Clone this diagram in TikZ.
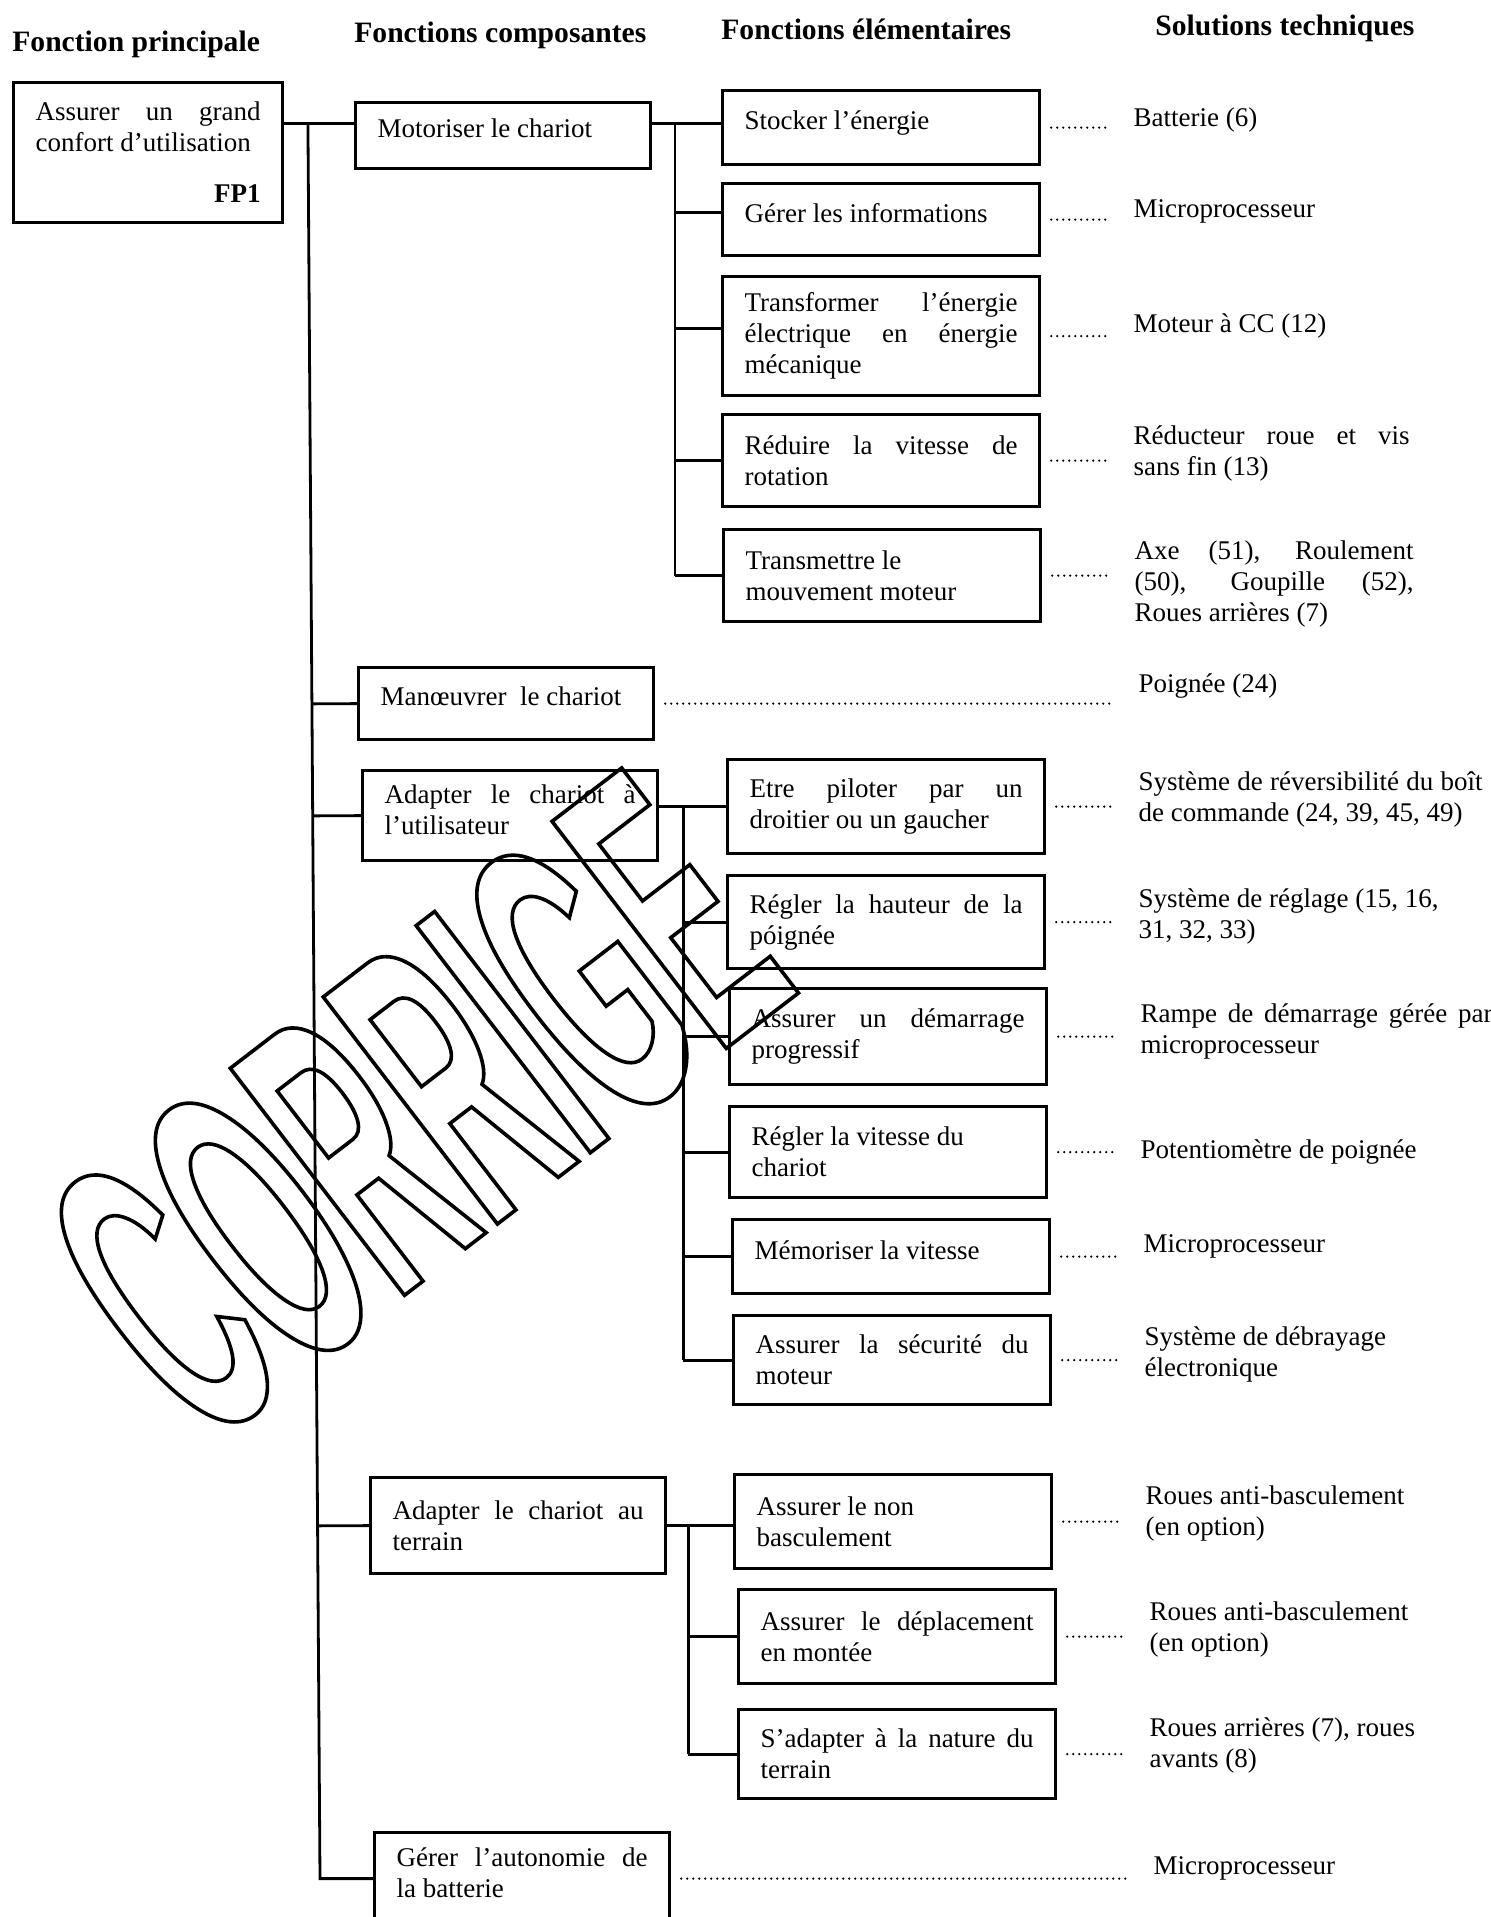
\documentclass[tikz,border=0pt]{standalone}
\usepackage{fontspec}
\setmainfont{Liberation Serif}
\newfontfamily\tamponfont[FakeStretch=0.39]{Liberation Sans}
\usetikzlibrary{positioning, calc}
\newcommand\bodysize{\fontsize{13.5pt}{15.5pt}\selectfont}
\newcommand\headsize{\fontsize{14.8pt}{17pt}\selectfont}
\newcommand\contourtexte[1]{\special{pdf:literal direct 1 Tr 1.8 w}#1\special{pdf:literal direct 0 Tr}}
\tikzset{
    x=0.5pt,
    y=-0.5pt,
    node distance=46pt,
    fonc/.style={draw, line width=1.6pt, anchor=north west, inner xsep=11pt, inner ysep=3pt, align=justify, font=\bodysize},
    fcomp/.style={fonc, text width=125.5pt},
    felem/.style={fonc, text width=136.5pt},
    haut/.style={text depth=7pt},
    hautdeux/.style={text depth=21.5pt},
    sol/.style={anchor=west, inner sep=0pt, align=left, font=\bodysize},
    titre/.style={anchor=west, inner sep=0pt, font=\headsize\bfseries},
    link/.style={line width=1.4pt},
    leader/.style={line width=1.2pt, line cap=round, dash pattern=on 0pt off 3pt, shorten <=5pt, shorten >=13pt},
}

\begin{document}
\begin{tikzpicture}
    \useasboundingbox (0,0) rectangle (1491,1917);
    \clip (0,0) rectangle (1491,1917);

    % titres des colonnes
    \node[titre] (h1) at (12,44) {Fonction principale};
    \node[titre] (h2) at (354,35) {Fonctions composantes};
    \node[titre] (h3) at (721,29) {Fonctions élémentaires};
    \node[titre] (h4) at (1155,28) {Solutions techniques};

    % fonction principale et fonctions composantes
    \node[fonc, text width=112.5pt, minimum height=70pt] (fp1) at (12,81)
        {Assurer un grand\linebreak confort d’utilisation\\[10pt]\hspace*{\fill}\textbf{FP1}};
    \node[fcomp, haut, minimum height=33pt] (fc1) at (354,101) {Motoriser le chariot};
    \node[fcomp, haut, minimum height=36pt] (fc2) at (357,666) {Manœuvrer\ \ le chariot};
    \node[fcomp, hautdeux, minimum height=45pt] (fc3) at (361,769) {Adapter le chariot à\linebreak l’utilisateur};
    \node[fcomp, minimum height=48pt] (fc4) at (369,1476) {Adapter le chariot au\linebreak terrain};
    \node[fcomp, hautdeux, minimum height=46pt] (fc5) at (373,1831) {Gérer l’autonomie de\linebreak la batterie};

    % fonctions elementaires
    \node[felem, haut, minimum height=37pt] (fe1) at (721,89) {Stocker l’énergie};
    \node[felem, haut, minimum height=36pt] (fe2) at (721,182) {Gérer les informations};
    \node[felem, minimum height=59.5pt] (fe3) at (721,275) {Transformer l’énergie\linebreak électrique en énergie\linebreak mécanique};
    \node[felem, minimum height=46pt] (fe4) at (721,413) {Réduire la vitesse de\linebreak rotation};
    \node[felem, minimum height=46pt] (fe5) at (722,528) {Transmettre le\\ mouvement moteur};
    \node[felem, minimum height=47pt] (fe6) at (726,758) {Etre piloter par un\linebreak droitier ou un gaucher};
    \node[felem, minimum height=46.5pt] (fe7) at (726,874) {Régler la hauteur de la\linebreak póignée};
    \node[felem, minimum height=48pt] (fe8) at (728,987) {Assurer un démarrage\linebreak progressif};
    \node[felem, minimum height=45.5pt] (fe9) at (728,1105) {Régler la vitesse du\\ chariot};
    \node[felem, haut, minimum height=37pt] (fe10) at (731,1218) {Mémoriser la vitesse};
    \node[felem, minimum height=44.5pt] (fe11) at (732,1314) {Assurer la sécurité du\linebreak moteur};
    \node[felem, minimum height=47pt] (fe12) at (733,1473) {Assurer le non\\ basculement};
    \node[felem, minimum height=47pt] (fe13) at (737,1588) {Assurer le déplacement\linebreak en montée};
    \node[felem, minimum height=44.5pt] (fe14) at (737,1708) {S’adapter à la nature du\linebreak terrain};

    % solutions techniques
    \node[sol, right=of fe1, yshift=4pt] (st1) {Batterie (6)};
    \node[sol, right=of fe2, yshift=4pt] (st2) {Microprocesseur};
    \node[sol, right=of fe3, yshift=5pt] (st3) {Moteur à CC (12)};
    \node[sol, right=of fe4, yshift=3.5pt, text width=138pt, align=justify] (st4) {Réducteur roue et vis\linebreak sans fin (13)};
    \node[sol, right=of fe5, yshift=-4pt, text width=139.5pt, align=justify] (st5) {Axe (51), Roulement\linebreak (50), Goupille (52),\linebreak Roues arrières (7)};
    \node[sol, right=241.5pt of fc2, yshift=9pt] (st6) {Poignée (24)};
    \node[sol, right=of fe6, yshift=3.5pt, text width=172pt, align=justify] (st7) {Système de réversibilité du boît\linebreak de commande (24, 39, 45, 49)};
    \node[sol, right=of fe7, yshift=3pt] (st8) {Système de réglage (15, 16,\\ 31, 32, 33)};
    \node[sol, right=of fe8, yshift=2.5pt, text width=176pt, align=justify] (st9) {Rampe de démarrage gérée par\linebreak microprocesseur};
    \node[sol, right=of fe9] (st10) {Potentiomètre de poignée};
    \node[sol, right=of fe10, yshift=5pt] (st11) {Microprocesseur};
    \node[sol, right=of fe11, yshift=3pt] (st12) {Système de débrayage\\ électronique};
    \node[sol, right=of fe12, yshift=4pt] (st13) {Roues anti-basculement\\ (en option)};
    \node[sol, right=of fe13, yshift=3.5pt] (st14) {Roues anti-basculement\\ (en option)};
    \node[sol, right=of fe14, yshift=4.5pt] (st15) {Roues arrières (7), roues\\ avants (8)};
    \node[sol, right=241pt of fc5, yshift=5pt] (st16) {Microprocesseur};

    % liaisons
    \coordinate (m0) at ([yshift=6pt]fc1.west);
    \coordinate (m1) at ([yshift=6pt]fc1.east);
    \coordinate (t5) at ([xshift=-26.5pt]fc5.west);
    \coordinate (b2) at ([yshift=3.5pt]fe2.west);
    \coordinate (b3) at ([yshift=4pt]fe3.west);
    \path (fp1.east |- m0) -- coordinate[pos=0.34] (t0) (m0);
    \path (m1) -- coordinate[pos=0.33] (s1) (m1 -| fe1.west);
    \path (fc3.east |- fe6.west) -- coordinate[pos=0.36] (s2) (fe6.west);
    \path (fc4.east) -- coordinate[pos=0.32] (s3) (fc4.east -| fe12.west);

    \draw[link] (fp1.east |- m0) -- (m0);
    \draw[link] (t0) -- (t5) -- (fc5.west);
    \draw[link] ($(t0)!(fc2.west)!(t5)$) -- (fc2.west);
    \draw[link] ($(t0)!(fc3.west)!(t5)$) -- (fc3.west);
    \draw[link] ($(t0)!(fc4.west)!(t5)$) -- (fc4.west);

    \draw[link] (m1) -- (m1 -| fe1.west);
    \draw[link] (s1) -- (fe5.west -| s1);
    \draw[link] (b2 -| s1) -- (b2);
    \draw[link] (b3 -| s1) -- (b3);
    \draw[link] (fe4.west -| s1) -- (fe4.west);
    \draw[link] (fe5.west -| s1) -- (fe5.west);

    \draw[link] (fc3.east |- fe6.west) -- (fe6.west);
    \draw[link] (s2) -- (fe11.west -| s2);
    \draw[link] (fe7.west -| s2) -- (fe7.west);
    \draw[link] (fe8.west -| s2) -- (fe8.west);
    \draw[link] (fe9.west -| s2) -- (fe9.west);
    \draw[link] (fe10.west -| s2) -- (fe10.west);
    \draw[link] (fe11.west -| s2) -- (fe11.west);

    \draw[link] (fc4.east) -- (fc4.east -| fe12.west);
    \draw[link] (s3) -- (fe14.west -| s3);
    \draw[link] (fe13.west -| s3) -- (fe13.west);
    \draw[link] (fe14.west -| s3) -- (fe14.west);

    % pointilles vers les solutions
    \path[leader]
        (fe1.east) edge (fe1.east -| st1.west)
        (fe2.east) edge (fe2.east -| st2.west)
        (fe3.east) edge (fe3.east -| st3.west)
        (fe4.east) edge (fe4.east -| st4.west)
        (fe5.east) edge (fe5.east -| st5.west)
        (fc2.east) edge (fc2.east -| st6.west)
        (fe6.east) edge (fe6.east -| st7.west)
        (fe7.east) edge (fe7.east -| st8.west)
        (fe8.east) edge (fe8.east -| st9.west)
        (fe9.east) edge (fe9.east -| st10.west)
        (fe10.east) edge (fe10.east -| st11.west)
        (fe11.east) edge (fe11.east -| st12.west)
        (fe12.east) edge (fe12.east -| st13.west)
        (fe13.east) edge (fe13.east -| st14.west)
        (fe14.east) edge (fe14.east -| st15.west)
        (fc5.east) edge (fc5.east -| st16.west);

    % tampon
    \node[rotate=37.5, inner sep=0pt, font=\tamponfont\fontsize{208pt}{208pt}\selectfont\bfseries] (tampon) at (416,1106)
        {\contourtexte{CORRIGE}};
\end{tikzpicture}
\end{document}
